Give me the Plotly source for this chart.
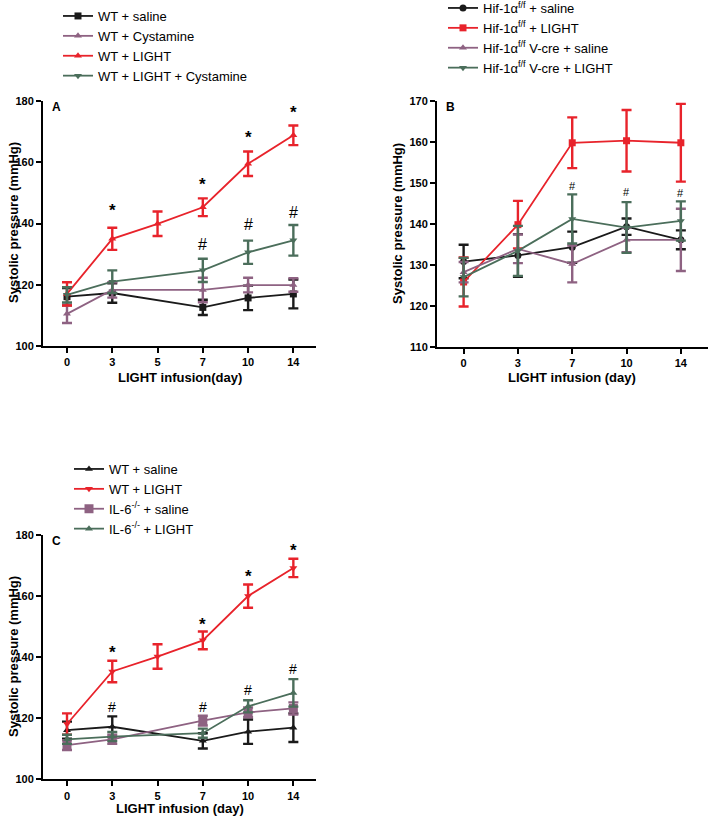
import plotly.graph_objects as go

# ---- panel A ----
days_a = ["0", "3", "5", "7", "10", "14"]
days_a_no5 = ["0", "3", "7", "10", "14"]
a_saline = [116.1, 117.3, 112.6, 115.7, 117.0]
a_saline_err = [2.8, 3.2, 2.5, 4.0, 4.7]
a_cys = [110.5, 118.3, 118.3, 119.9, 119.9]
a_cys_err = [3.0, 2.5, 4.0, 2.4, 2.2]
a_light = [117.0, 135.0, 139.9, 145.3, 159.5, 168.8]
a_light_err = [3.8, 3.6, 4.0, 2.9, 4.0, 3.2]
a_light_cys = [116.7, 121.0, 124.7, 130.6, 134.5]
a_light_cys_err = [2.5, 3.7, 3.8, 3.8, 5.0]
a_star_days = ["3", "7", "10", "14"]
a_star_y = [144.2, 152.8, 168.0, 176.2]
a_hash_days = ["7", "10", "14"]
a_hash_y = [133.2, 139.8, 143.5]

# ---- panel B ----
days_b = ["0", "3", "7", "10", "14"]
b_saline = [130.8, 132.3, 134.3, 139.3, 136.1]
b_saline_err = [4.1, 5.2, 3.8, 2.0, 2.3]
b_light = [125.8, 139.8, 159.8, 160.3, 159.8]
b_light_err = [6.0, 5.8, 6.2, 7.5, 9.5]
b_vcre_saline = [128.2, 133.9, 130.2, 136.1, 136.1]
b_vcre_saline_err = [2.5, 3.5, 4.5, 3.0, 7.6]
b_vcre_light = [127.0, 133.4, 141.2, 139.1, 140.7]
b_vcre_light_err = [4.7, 6.1, 6.0, 6.2, 4.8]
b_star_days = ["7", "10", "14"]
b_star_y = [170.1, 171.9, 172.6]
b_hash_days = ["7", "10", "14"]
b_hash_y = [149.2, 147.9, 147.5]

# ---- panel C ----
c_wt_saline = [116.1, 117.2, 112.6, 115.6, 116.9]
c_wt_saline_err = [2.8, 3.4, 2.5, 4.0, 4.7]
c_wt_light = [118.1, 135.3, 140.2, 145.5, 160.0, 169.2]
c_wt_light_err = [3.5, 3.5, 4.0, 2.9, 3.8, 3.0]
c_il6_saline = [111.2, 113.1, 119.2, 121.9, 123.2]
c_il6_saline_err = [1.6, 1.5, 1.6, 1.6, 2.0]
c_il6_light = [113.1, 114.0, 115.1, 123.9, 128.3]
c_il6_light_err = [1.5, 1.5, 1.5, 2.0, 4.5]
c_star_days = ["3", "7", "10", "14"]
c_star_y = [141.5, 150.8, 166.3, 175.0]
c_hash_days = ["3", "7", "10", "14"]
c_hash_y = [123.7, 123.7, 129.4, 136.2]

BLACK = "#1a1a1a"
MAUVE = "#8e6282"
RED = "#e8232b"
GREEN = "#4b6e5b"
FONT = "Liberation Sans"

fig = go.Figure()


def add_series(x, y, err, name, color, symbol, xa, ya, legend, size=7):
    fig.add_trace(go.Scatter(
        x=x, y=y, name=name, mode="lines+markers",
        line=dict(color=color, width=1.8),
        marker=dict(color=color, symbol=symbol, size=size),
        error_y=dict(type="data", array=err, color=color, thickness=2.4, width=5),
        xaxis=xa, yaxis=ya, legend=legend, cliponaxis=False
    ))


add_series(days_a_no5, a_saline, a_saline_err, "WT + saline", BLACK, "square", "x", "y", "legend")
add_series(days_a_no5, a_cys, a_cys_err, "WT + Cystamine", MAUVE, "triangle-up", "x", "y", "legend")
add_series(days_a, a_light, a_light_err, "WT + LIGHT", RED, "triangle-up", "x", "y", "legend")
add_series(days_a_no5, a_light_cys, a_light_cys_err, "WT + LIGHT + Cystamine", GREEN, "triangle-down", "x", "y", "legend")

add_series(days_b, b_saline, b_saline_err, "Hif-1α<sup>f/f</sup> + saline", BLACK, "circle", "x2", "y2", "legend2")
add_series(days_b, b_light, b_light_err, "Hif-1α<sup>f/f</sup> + LIGHT", RED, "square", "x2", "y2", "legend2")
add_series(days_b, b_vcre_saline, b_vcre_saline_err, "Hif-1α<sup>f/f</sup> V-cre + saline", MAUVE, "triangle-up", "x2", "y2", "legend2")
add_series(days_b, b_vcre_light, b_vcre_light_err, "Hif-1α<sup>f/f</sup> V-cre + LIGHT", GREEN, "triangle-down", "x2", "y2", "legend2")

add_series(days_a_no5, c_wt_saline, c_wt_saline_err, "WT + saline", BLACK, "triangle-up", "x3", "y3", "legend3")
add_series(days_a, c_wt_light, c_wt_light_err, "WT + LIGHT", RED, "triangle-down", "x3", "y3", "legend3")
add_series(days_a_no5, c_il6_saline, c_il6_saline_err, "IL-6<sup>-/-</sup> + saline", MAUVE, "square", "x3", "y3", "legend3", size=9)
add_series(days_a_no5, c_il6_light, c_il6_light_err, "IL-6<sup>-/-</sup> + LIGHT", GREEN, "triangle-up", "x3", "y3", "legend3")

annotations = []


def add_marks(days, ys, cats, text, xref, yref, size):
    # annotations on category axes take the category index
    for d, v in zip(days, ys):
        annotations.append(dict(
            x=cats.index(d), y=v, xref=xref, yref=yref, text=text, showarrow=False,
            xanchor="center", yanchor="middle",
            font=dict(family=FONT, size=size, color="black")
        ))


add_marks(a_star_days, a_star_y, days_a, "<b>*</b>", "x", "y", 17)
add_marks(a_hash_days, a_hash_y, days_a, "#", "x", "y", 16)
add_marks(b_star_days, b_star_y, days_b, "<b>*</b>", "x2", "y2", 17)
add_marks(b_hash_days, b_hash_y, days_b, "#", "x2", "y2", 11)
add_marks(c_star_days, c_star_y, days_a, "<b>*</b>", "x3", "y3", 17)
add_marks(c_hash_days, c_hash_y, days_a, "#", "x3", "y3", 14)

# panel letters and axis titles
for letter, xr, yr in [("A", "x domain", "y domain"), ("B", "x2 domain", "y2 domain"), ("C", "x3 domain", "y3 domain")]:
    annotations.append(dict(x=0.05, y=0.975, xref=xr, yref=yr, text="<b>" + letter + "</b>",
                            xanchor="center", yanchor="middle",
                            showarrow=False, font=dict(family=FONT, size=12, color="black")))

title_font = dict(family=FONT, size=13, color="black")
for txt, x, y in [("<b>LIGHT infusion(day)</b>", 180, 378),
                  ("<b>LIGHT infusion (day)</b>", 572, 378),
                  ("<b>LIGHT infusion (day)</b>", 180, 808)]:
    annotations.append(dict(x=x / 709, y=1 - y / 818, xref="paper", yref="paper", text=txt,
                            xanchor="center", yanchor="middle",
                            showarrow=False, font=title_font))
for x, y in [(13, 223), (398, 224), (13, 657)]:
    annotations.append(dict(x=x / 709, y=1 - y / 818, xref="paper", yref="paper",
                            text="<b>Systolic pressure (mmHg)</b>", textangle=-90,
                            xanchor="center", yanchor="middle",
                            showarrow=False, font=title_font))

axis_style = dict(
    showline=True, linecolor="black", linewidth=2, ticks="outside", ticklen=5,
    tickwidth=2, tickcolor="black", showgrid=False, zeroline=False,
    tickfont=dict(family=FONT, size=11, color="black", weight="bold")
)

legend_style = dict(font=dict(family=FONT, size=13, color="black"), bgcolor="rgba(0,0,0,0)",
                    xanchor="left", yanchor="top", tracegroupgap=0)

fig.update_layout(
    width=709, height=818, margin=dict(l=0, r=0, t=0, b=0, autoexpand=False),
    paper_bgcolor="white", plot_bgcolor="white",
    xaxis=dict(domain=[43 / 709, 316 / 709], type="category", categoryorder="array",
               categoryarray=days_a, range=[-0.53, 5.5], anchor="y", **axis_style),
    yaxis=dict(domain=[1 - 346 / 818, 1 - 101 / 818], range=[100, 180],
               tickvals=[100, 120, 140, 160, 180], anchor="x", **axis_style),
    xaxis2=dict(domain=[437 / 709, 708 / 709], type="category", categoryorder="array",
                categoryarray=days_b, range=[-0.49, 4.5], anchor="y2", **axis_style),
    yaxis2=dict(domain=[1 - 346.7 / 818, 1 - 101 / 818], range=[110, 170],
                tickvals=[110, 120, 130, 140, 150, 160, 170], anchor="x2", **axis_style),
    xaxis3=dict(domain=[43 / 709, 316 / 709], type="category", categoryorder="array",
                categoryarray=days_a, range=[-0.53, 5.5], anchor="y3", **axis_style),
    yaxis3=dict(domain=[1 - 779.3 / 818, 1 - 535 / 818], range=[100, 180],
                tickvals=[100, 120, 140, 160, 180], anchor="x3", **axis_style),
    legend=dict(x=58 / 709, y=1 - 1 / 818, **legend_style),
    legend2=dict(x=443 / 709, y=1 + 7 / 818, **legend_style),
    legend3=dict(x=69 / 709, y=1 - 454 / 818, **legend_style),
    annotations=annotations,
)

# drop the default 8px page margin so the figure sits at the window's corner
fig.write_html("out.html", config={"displayModeBar": False},
               post_script="document.body.style.margin='0';")
